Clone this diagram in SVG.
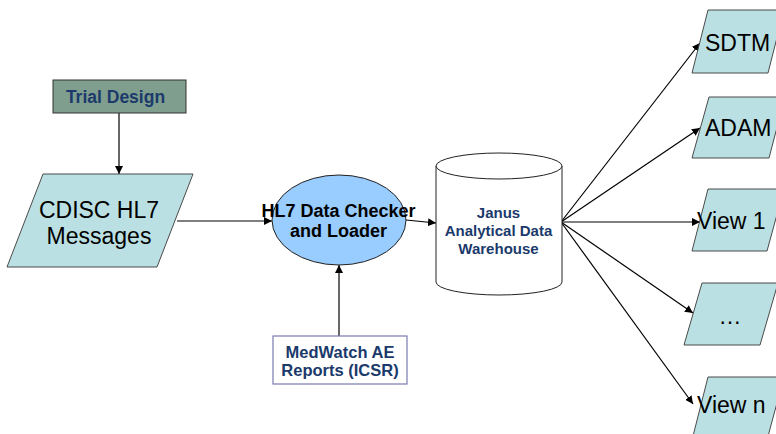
<svg xmlns="http://www.w3.org/2000/svg" width="776" height="434" viewBox="0 0 776 434">
<defs>
<style>
.para{fill:#bbe0e3;stroke:#4a4a4a;stroke-width:1}
.big{font-family:"Liberation Sans",Arial,sans-serif;font-size:23px;fill:#000}
.navy{font-family:"Liberation Sans",Arial,sans-serif;font-weight:bold;fill:#1b3a6b}
.conn{stroke:#000;stroke-width:1.2;fill:none;marker-end:url(#ah)}
</style>
<marker id="ah" viewBox="0 0 10 10" refX="10" refY="5" markerWidth="8" markerHeight="8" markerUnits="userSpaceOnUse" orient="auto">
<path d="M0,0 L10,5 L0,10 z" fill="#000"/>
</marker>
</defs>
<rect width="776" height="434" fill="#fff"/>
<g id="connectors">
<line class="conn" x1="119" y1="113" x2="119" y2="174"/>
<line class="conn" x1="177" y1="221" x2="272" y2="221"/>
<line class="conn" x1="406" y1="220" x2="436" y2="223"/>
<line class="conn" x1="339" y1="336" x2="339" y2="265"/>
<line class="conn" x1="561" y1="222" x2="700" y2="43"/>
<line class="conn" x1="561" y1="222" x2="700" y2="128"/>
<line class="conn" x1="561" y1="222" x2="700" y2="222"/>
<line class="conn" x1="561" y1="222" x2="693" y2="313"/>
<line class="conn" x1="561" y1="222" x2="693" y2="404"/>
</g>
<g id="trial-design">
<rect x="53" y="80" width="133" height="33" fill="#7f9e8e" stroke="#333" stroke-width="1"/>
<text class="navy" x="115.5" y="103" font-size="17.5" text-anchor="middle">Trial Design</text>
</g>
<g id="cdisc">
<polygon class="para" points="43,174 193,174 157,267 7,267"/>
<text class="big" x="99" y="218" text-anchor="middle">CDISC HL7</text>
<text class="big" x="99" y="244" text-anchor="middle">Messages</text>
</g>
<g id="checker">
<ellipse cx="339" cy="220" rx="67" ry="45" fill="#99ccff" stroke="#222" stroke-width="1"/>
<text x="338.5" y="217" font-family="Liberation Sans,Arial,sans-serif" font-weight="bold" font-size="18" text-anchor="middle" fill="#000">HL7 Data Checker</text>
<text x="338.5" y="237" font-family="Liberation Sans,Arial,sans-serif" font-weight="bold" font-size="18" text-anchor="middle" fill="#000">and Loader</text>
</g>
<g id="warehouse">
<path d="M436,166 L436,282 A63,13 0 0 0 562,282 L562,166" fill="#fff" stroke="#222" stroke-width="1"/>
<ellipse cx="499" cy="166" rx="63" ry="13" fill="#fff" stroke="#222" stroke-width="1"/>
<text class="navy" x="498.5" y="218" font-size="15" text-anchor="middle">Janus</text>
<text class="navy" x="498.5" y="236" font-size="15" text-anchor="middle">Analytical Data</text>
<text class="navy" x="498.5" y="254" font-size="15" text-anchor="middle">Warehouse</text>
</g>
<g id="medwatch">
<rect x="273" y="336" width="134" height="48" fill="#fff" stroke="#7a7ab0" stroke-width="1.2"/>
<text class="navy" x="340" y="358" font-size="16.5" text-anchor="middle">MedWatch AE</text>
<text class="navy" x="340" y="376" font-size="16.5" text-anchor="middle">Reports (ICSR)</text>
</g>
<g id="sdtm">
<polygon class="para" points="708,10 784,10 768,73 692,73"/>
<text class="big" x="705" y="51">SDTM</text>
</g>
<g id="adam">
<polygon class="para" points="709,97 785,97 769,158 692,158"/>
<text class="big" x="705" y="136">ADAM</text>
</g>
<g id="view1">
<polygon class="para" points="708,189 784,189 767,251 692,251"/>
<text class="big" x="697" y="229">View 1</text>
</g>
<g id="dots">
<polygon class="para" points="702,283 778,283 760,345 684,345"/>
<text class="big" x="730" y="324" text-anchor="middle">…</text>
</g>
<g id="viewn">
<polygon class="para" points="708,377 784,377 767,440 692,440"/>
<text class="big" x="697" y="413">View n</text>
</g>
</svg>
